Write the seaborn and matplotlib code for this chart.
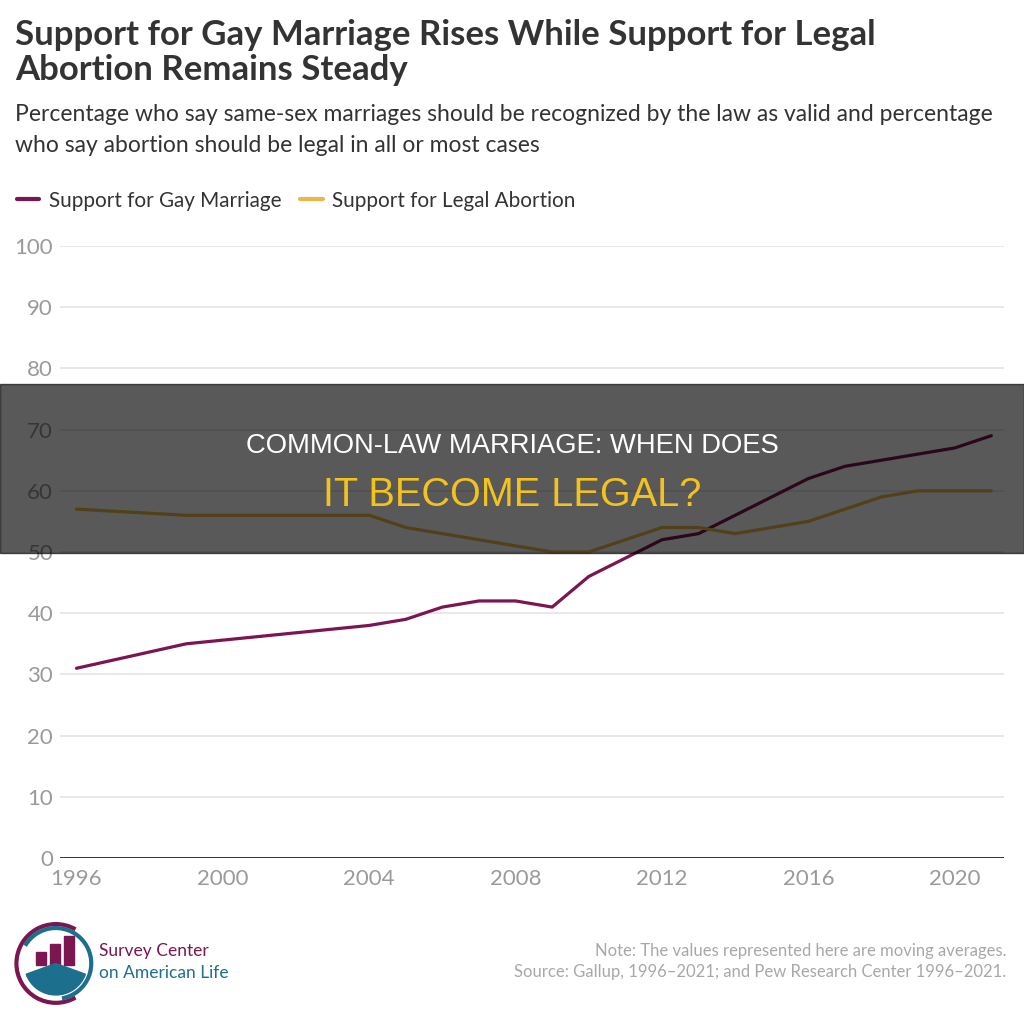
import pandas as pd
import numpy as np
import matplotlib.pyplot as plt
import matplotlib.patches as mpatches
import seaborn as sns

# Data (moving averages, %)
gay_years = [1996, 1999, 2004, 2005, 2006, 2007, 2008, 2009, 2010, 2012, 2013,
             2016, 2017, 2018, 2020, 2021]
gay_values = [31, 35, 38, 39, 41, 42, 42, 41, 46, 52, 53, 62, 64, 65, 67, 69]

abortion_years = [1996, 1999, 2004, 2005, 2006, 2007, 2008, 2009, 2010, 2012,
                  2013, 2014, 2016, 2017, 2018, 2019, 2021]
abortion_values = [57, 56, 56, 54, 53, 52, 51, 50, 50, 54, 54, 53, 55, 57, 59,
                   60, 60]

series_names = ["Support for Gay Marriage", "Support for Legal Abortion"]
x_ticks = [1996, 2000, 2004, 2008, 2012, 2016, 2020]
y_ticks = [0, 10, 20, 30, 40, 50, 60, 70, 80, 90, 100]

df = pd.concat([
    pd.DataFrame({"Year": gay_years, "Value": gay_values,
                  "Series": series_names[0]}),
    pd.DataFrame({"Year": abortion_years, "Value": abortion_values,
                  "Series": series_names[1]}),
])

maroon = "#7b1650"
gold = "#e8b949"
palette = {series_names[0]: maroon, series_names[1]: gold}

sns.set_style("white")
plt.rcParams["font.family"] = ["Lato", "DejaVu Sans"]

fig = plt.figure(figsize=(10.24, 10.19), dpi=100)
ax = fig.add_axes([0.0586, 0.158, 0.922, 0.6006])

sns.lineplot(data=df, x="Year", y="Value", hue="Series", palette=palette,
             linewidth=2.3, ax=ax, legend=False)

ax.set_xlim(1995.55, 2021.35)
ax.set_ylim(0, 100)
ax.set_xticks(x_ticks)
ax.set_yticks(y_ticks)
ax.set_xlabel("")
ax.set_ylabel("")
ax.grid(axis="y", color="#e4e4e4", linewidth=1.2)
ax.grid(axis="x", visible=False)
for side in ["top", "right", "left", "bottom"]:
    ax.spines[side].set_visible(False)
ax.axhline(0, color="#222222", linewidth=2, zorder=3)
ax.tick_params(axis="both", length=0, labelsize=16, labelcolor="#9a9a9a")
ax.tick_params(axis="y", pad=5)
ax.tick_params(axis="x", pad=8)

# Titles
fig.text(0.015, 0.966, "Support for Gay Marriage Rises While Support for Legal",
         fontsize=25, fontweight="bold", color="#333333", va="center")
fig.text(0.015, 0.931, "Abortion Remains Steady",
         fontsize=25, fontweight="bold", color="#333333", va="center")
fig.text(0.015, 0.888, "Percentage who say same-sex marriages should be recognized "
         "by the law as valid and percentage",
         fontsize=16.5, color="#333333", va="center")
fig.text(0.015, 0.857, "who say abortion should be legal in all or most cases",
         fontsize=16.5, color="#333333", va="center")

# Legend
handles = [plt.Line2D([], [], color=palette[n], linewidth=3) for n in series_names]
fig.legend(handles, series_names, loc="center left", bbox_to_anchor=(-0.002, 0.803),
           ncol=2, frameon=False, fontsize=14.9, handlelength=1.1,
           handletextpad=0.45, columnspacing=0.9, labelcolor="#333333")

# Footer notes
fig.text(0.983, 0.067, "Note: The values represented here are moving averages.",
         fontsize=12, color="#a8a8a8", ha="right", va="center")
fig.text(0.983, 0.046, "Source: Gallup, 1996\u20132021; and Pew Research Center 1996\u20132021.",
         fontsize=12, color="#a8a8a8", ha="right", va="center")

# Logo
teal = "#1d6f8e"
lax = fig.add_axes([0.012, 0.012, 0.085, 0.085])
lax.set_xlim(-1.1, 1.1)
lax.set_ylim(-1.1, 1.1)
lax.set_aspect("equal")
lax.axis("off")
lax.add_patch(mpatches.Arc((0, 0), 2.0, 2.0, theta1=60, theta2=300,
                           color=maroon, linewidth=3))
lax.add_patch(mpatches.Arc((0, 0), 1.8, 1.8, theta1=-80, theta2=150,
                           color=teal, linewidth=3))
for bx, bh in [(-0.5, 0.35), (-0.15, 0.55), (0.2, 0.75)]:
    lax.add_patch(mpatches.Rectangle((bx, -0.05), 0.25, bh, color=maroon))
lax.add_patch(mpatches.Wedge((0, 0), 0.8, 200, 340, color=teal))
fig.text(0.097, 0.067, "Survey Center", fontsize=12.5, color=maroon, va="center")
fig.text(0.097, 0.045, "on American Life", fontsize=12.5, color=teal, va="center")

# Overlay banner
fig.patches.append(mpatches.Rectangle((0, 1 - 553 / 1019), 1, 169 / 1019,
                                      transform=fig.transFigure,
                                      color="#000000", alpha=0.65, zorder=10))
fig.text(0.5, 1 - 446 / 1019, "COMMON-LAW MARRIAGE: WHEN DOES",
         fontsize=19.7, color="white", ha="center", va="center",
         family="Liberation Sans", zorder=11)
fig.text(0.5, 1 - 495 / 1019, "IT BECOME LEGAL?",
         fontsize=28.5, color="#f4c21f", ha="center", va="center",
         family="Liberation Sans", zorder=11)

fig.savefig("out.png", dpi=100)
